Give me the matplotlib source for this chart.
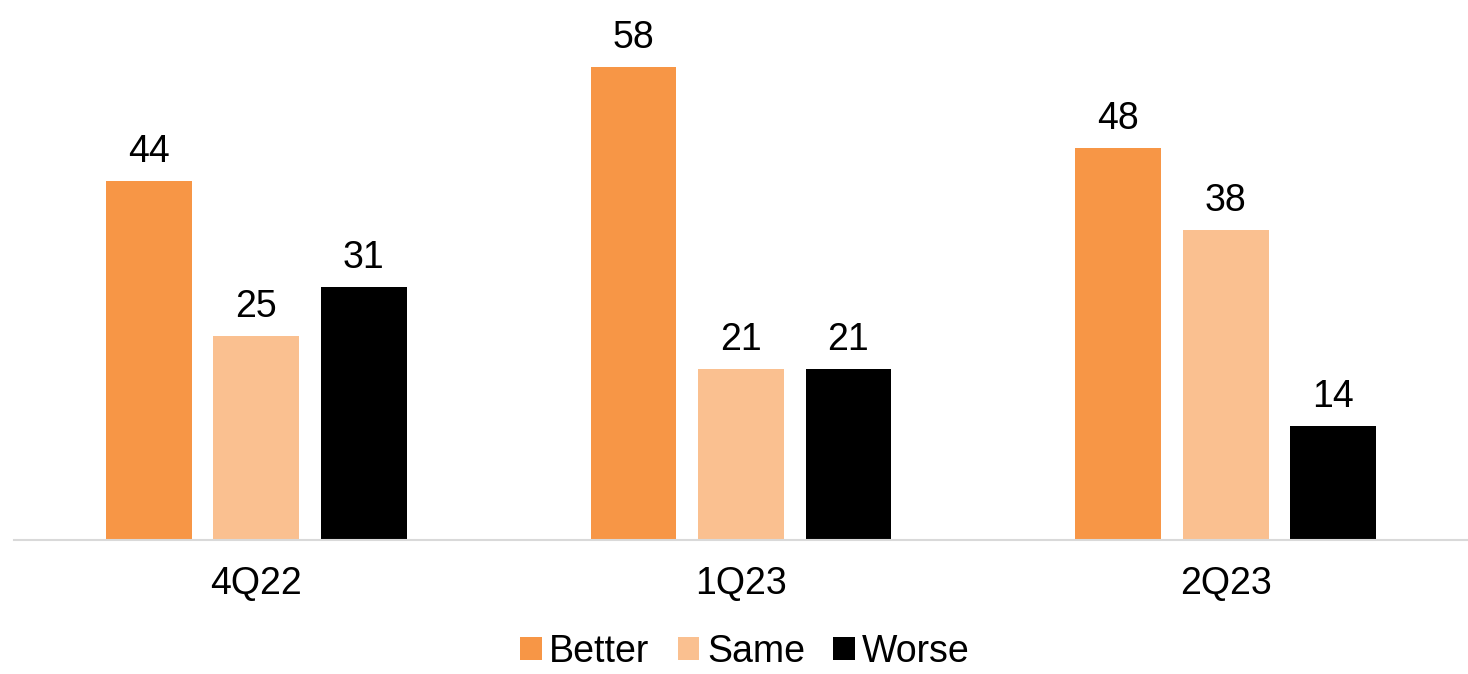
import numpy as np
import matplotlib.pyplot as plt

plt.rcParams['font.family'] = ['Liberation Sans', 'DejaVu Sans']

quarters = ['4Q22', '1Q23', '2Q23']
better = [44, 58, 48]
same = [25, 21, 38]
worse = [31, 21, 14]

series = [('Better', better, '#F79646'),
          ('Same', same, '#FAC090'),
          ('Worse', worse, '#000000')]

fig = plt.figure(figsize=(14.68, 6.74), dpi=100)
ax = fig.add_axes([14 / 1468, 134 / 674, 1 - 14 / 1468, 540 / 674])

x = np.arange(len(quarters))
width = 0.177
pitch = 0.2216

for i, (name, vals, col) in enumerate(series):
    pos = x + (i - 1) * pitch
    bars = ax.bar(pos, vals, width, color=col, label=name)
    for b, v in zip(bars, vals):
        ax.annotate(str(v), (b.get_x() + b.get_width() / 2, v),
                    xytext=(0, 8), textcoords='offset points',
                    ha='center', va='bottom', fontsize=27)

ax.set_xlim(-0.5, 2.5)
ax.set_ylim(0, 66.2)
ax.set_xticks(x)
ax.set_xticklabels(quarters, fontsize=27)
ax.tick_params(axis='x', length=0, pad=19)
ax.set_yticks([])
for s in ['top', 'right', 'left']:
    ax.spines[s].set_visible(False)
ax.spines['bottom'].set_color('#D9D9D9')
ax.spines['bottom'].set_linewidth(1.5)

fig.legend(loc='center', bbox_to_anchor=(745 / 1468, 1 - 652 / 674), ncol=3,
           frameon=False, fontsize=27, handlelength=0.58, handleheight=0.58,
           handletextpad=0.2, columnspacing=0.75)

fig.savefig('out.png', dpi=100)
